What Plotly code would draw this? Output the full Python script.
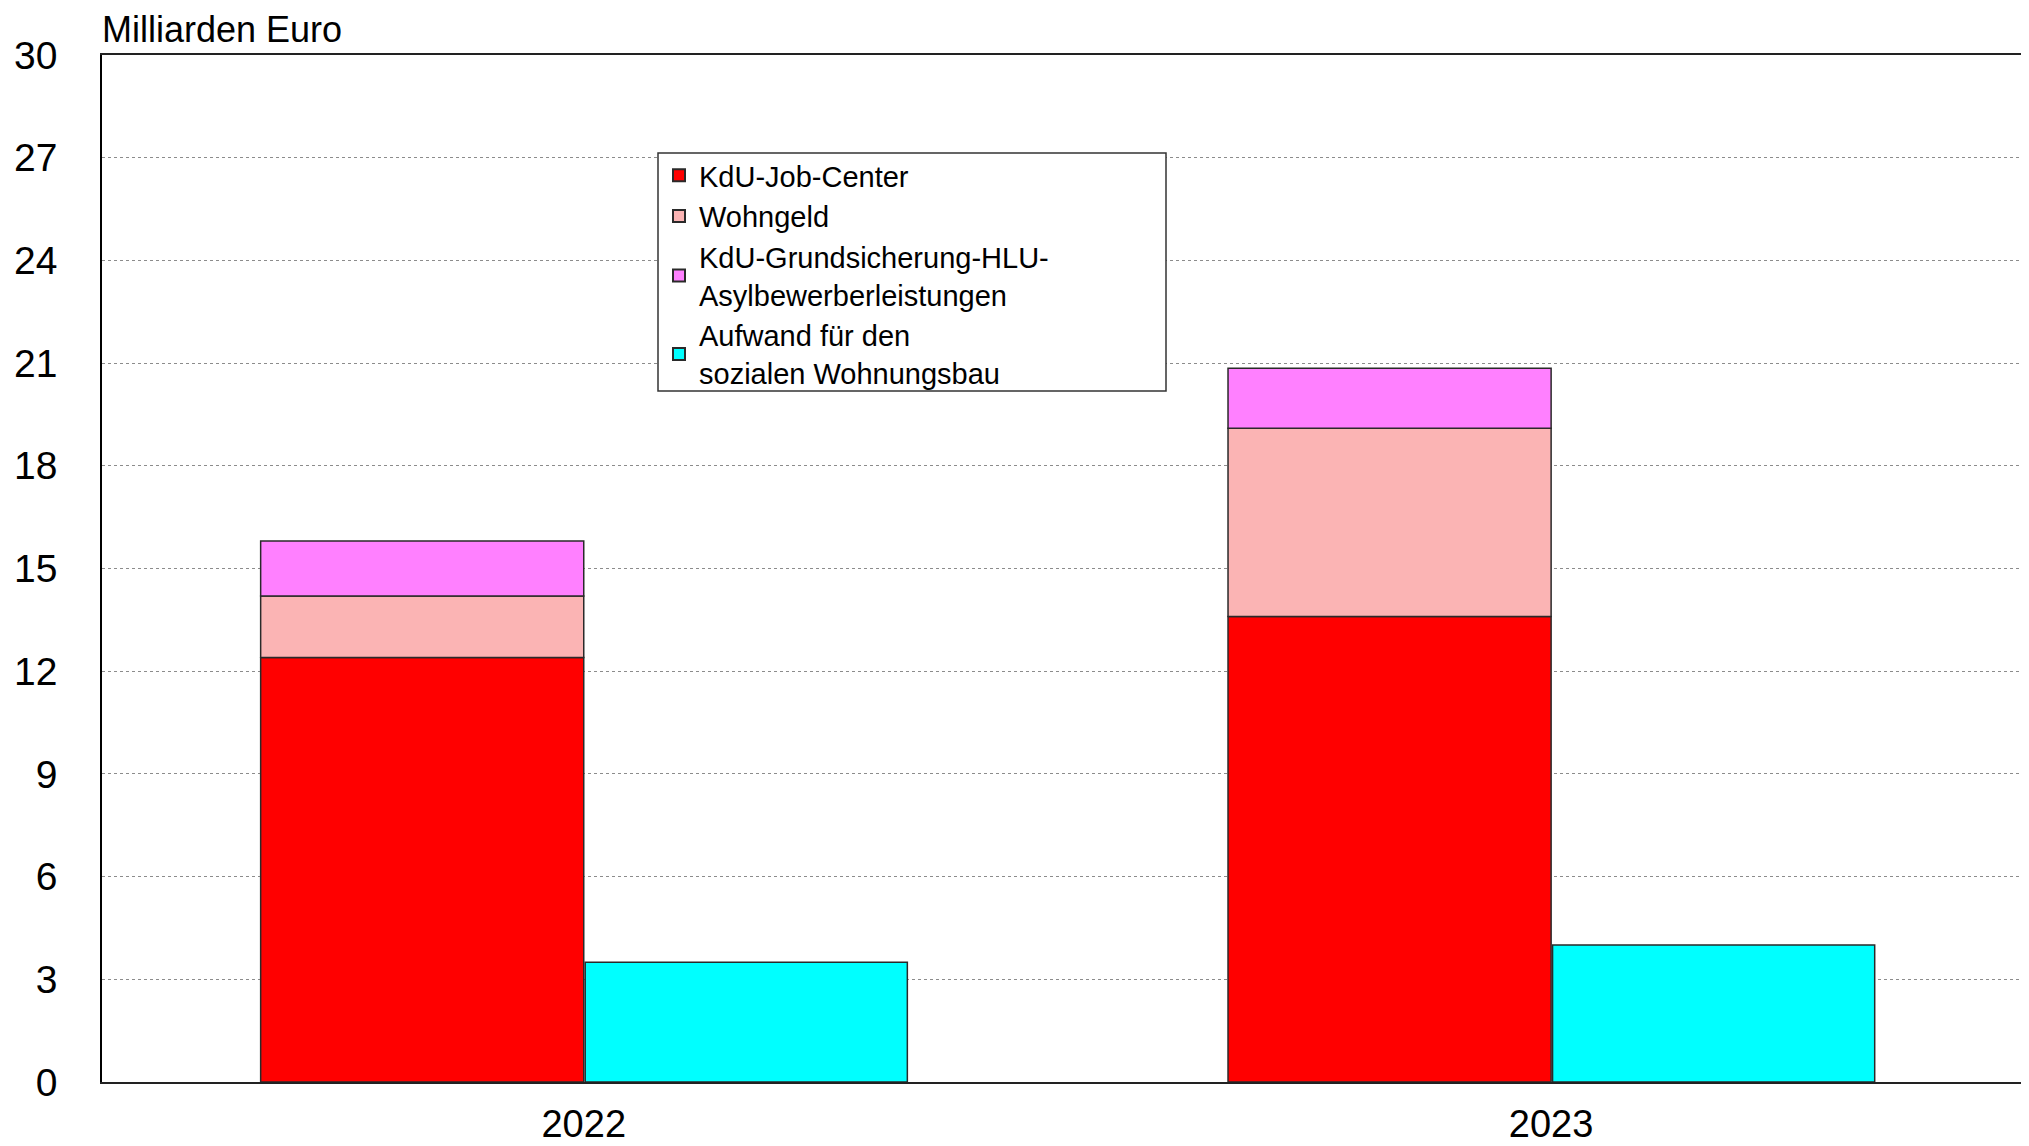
import plotly.graph_objects as go

years = ["2022", "2023"]
kdu_job_center = [12.4, 13.6]
wohngeld = [1.8, 5.5]
kdu_grundsicherung = [1.6, 1.75]
sozialer_wohnungsbau = [3.5, 4.0]

y_ticks = [0, 3, 6, 9, 12, 15, 18, 21, 24, 27, 30]

# stacked bar bases
base_wohngeld = [a for a in kdu_job_center]
base_grund = [a + b for a, b in zip(kdu_job_center, wohngeld)]

outline = dict(color="#2a2a2a", width=1.5)
font_family = "Liberation Sans, Arial, sans-serif"

# the html page adds an 8px body margin, so the figure is 8px smaller
W, H = 2021, 1138
plot_l, plot_r, plot_t, plot_b = 94, 2021, 47, 1074
pw, ph = plot_r - plot_l, plot_b - plot_t


def px_x(x):
    return (x - plot_l) / pw


def px_y(y):
    return (plot_b - y) / ph


fig = go.Figure()

fig.add_trace(go.Bar(x=years, y=kdu_job_center, name="KdU-Job-Center",
                     marker=dict(color="#FF0000", line=outline),
                     width=0.334, offset=-0.334))
fig.add_trace(go.Bar(x=years, y=wohngeld, base=base_wohngeld, name="Wohngeld",
                     marker=dict(color="#FBB4B4", line=outline),
                     width=0.334, offset=-0.334))
fig.add_trace(go.Bar(x=years, y=kdu_grundsicherung, base=base_grund,
                     name="KdU-Grundsicherung-HLU-<br>Asylbewerberleistungen",
                     marker=dict(color="#FF80FF", line=outline),
                     width=0.334, offset=-0.334))
fig.add_trace(go.Bar(x=years, y=sozialer_wohnungsbau,
                     name="Aufwand für den<br>sozialen Wohnungsbau",
                     marker=dict(color="#00FFFF", line=outline),
                     width=0.333, offset=0.0015))

# legend frame drawn as a shape so it can be wider than the text
legend_box = dict(type="rect", xref="paper", yref="paper",
                  x0=px_x(650), x1=px_x(1158), y0=px_y(383), y1=px_y(145),
                  fillcolor="#ffffff", line=dict(color="#333333", width=1.5),
                  layer="above")

fig.update_layout(
    width=W, height=H,
    barmode="overlay",
    plot_bgcolor="#ffffff", paper_bgcolor="#ffffff",
    margin=dict(l=plot_l, r=W - plot_r, t=plot_t, b=H - plot_b, autoexpand=False),
    font=dict(family=font_family, color="#000000"),
    showlegend=True,
    legend=dict(x=px_x(651), y=px_y(142), xanchor="left", yanchor="top",
                bgcolor="rgba(0,0,0,0)", borderwidth=0,
                font=dict(size=29, family=font_family), traceorder="normal",
                itemsizing="constant", tracegroupgap=0),
    shapes=[legend_box],
    annotations=[dict(text="Milliarden Euro", xref="paper", yref="paper",
                      x=px_x(92), y=px_y(21),
                      xanchor="left", yanchor="middle",
                      showarrow=False, font=dict(size=36, family=font_family))],
)

fig.update_yaxes(range=[0, 30], tickvals=y_ticks, ticktext=[str(v) for v in y_ticks],
                 tickfont=dict(size=39), showgrid=True, gridcolor="#8c8c8c",
                 griddash="dot", gridwidth=1, showline=True, linecolor="#000000",
                 linewidth=1.5, zeroline=False, ticks="", ticklabelstandoff=35,
                 automargin=False)
fig.update_xaxes(range=[-0.498, 1.494], tickfont=dict(size=38), showgrid=False,
                 showline=True, linecolor="#222222", linewidth=1.5, mirror=True,
                 ticks="", ticklabelstandoff=8, automargin=False)

fig.write_html("out.html")
